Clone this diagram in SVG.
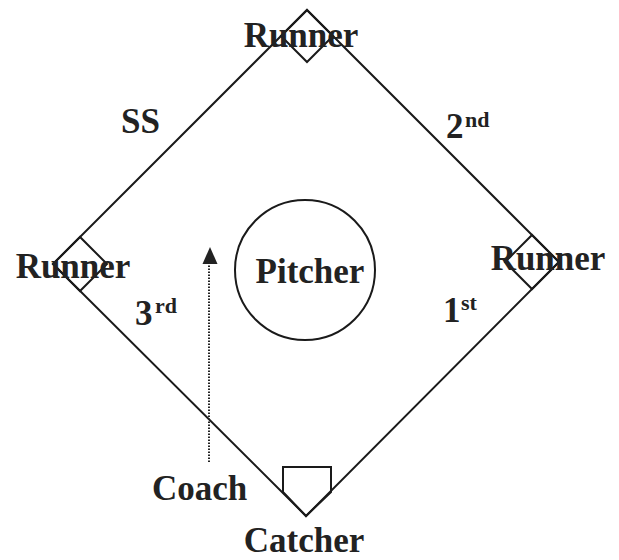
<svg xmlns="http://www.w3.org/2000/svg" width="619" height="560" viewBox="0 0 619 560">
<style>
.ln{fill:none;stroke:#1a1a1a;stroke-width:2;stroke-linejoin:miter}
.t{font-family:"Liberation Serif","Times New Roman",serif;font-weight:bold;fill:#222;font-size:35px}
.sup{font-size:22px}
</style>
<rect width="619" height="560" fill="#fff"/>
<g id="field">
<polygon class="ln" points="307,10 559,262 306,516 53,264"/>
</g>
<g id="second-base">
<polygon class="ln" points="307,10 333,36 307,62 281,36"/>
<text class="t" x="301" y="47" text-anchor="middle">Runner</text>
</g>
<g id="third-base">
<polygon class="ln" points="53,264 80,237 107,264 80,291"/>
<text class="t" x="73" y="278" text-anchor="middle">Runner</text>
</g>
<g id="first-base">
<polygon class="ln" points="559,262 532,235 505,262 532,289"/>
<text class="t" x="548" y="270" text-anchor="middle">Runner</text>
</g>
<g id="home-plate">
<polygon class="ln" points="283,467 331,467 331,492 306,516 283,492"/>
<text class="t" x="304" y="552" text-anchor="middle">Catcher</text>
</g>
<g id="pitcher">
<circle class="ln" cx="305" cy="270" r="70"/>
<text class="t" x="310" y="283" text-anchor="middle">Pitcher</text>
</g>
<g id="ss"><text class="t" x="121" y="133">SS</text></g>
<g id="second"><text class="t" x="446" y="138">2<tspan class="sup" x="465" y="127">nd</tspan></text></g>
<g id="third"><text class="t" x="135" y="325">3<tspan class="sup" x="155" y="313">rd</tspan></text></g>
<g id="first"><text class="t" x="443" y="322">1<tspan class="sup" x="461" y="310">st</tspan></text></g>
<g id="coach"><text class="t" x="152" y="500">Coach</text></g>
<g id="connectors">
<line x1="209" y1="462" x2="209" y2="262" stroke="#222" stroke-width="2" stroke-dasharray="1.5,1.5"/>
<polygon points="210,247 202.5,264 217.5,264" fill="#222"/>
</g>
</svg>
